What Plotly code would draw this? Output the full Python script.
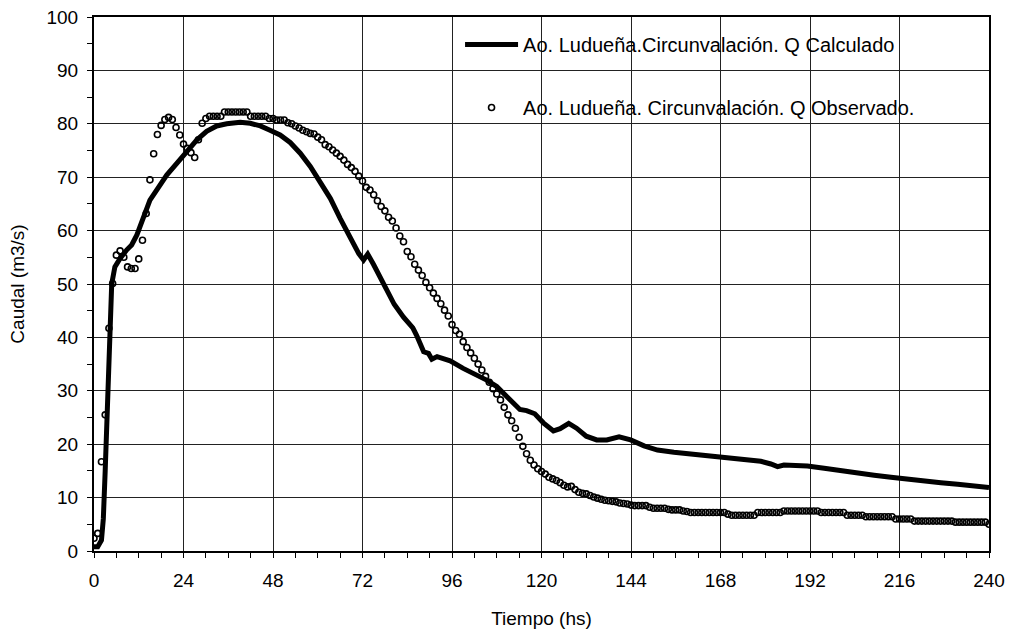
import plotly.graph_objects as go

# Calculated discharge (hours, m3/s)
calc_t = [0, 1, 2, 2.5, 3, 3.5, 3.85, 4.3, 4.5, 4.75, 5.6, 7, 8.8, 10.1, 11.5, 13.2, 15, 16.8,
          19.5, 22.2, 24.9, 27.6, 30.2, 32.9, 35.6, 39.2, 41.9, 44.6, 47.2, 49.9, 52.6, 55.3,
          58, 60.7, 63.4, 66, 68.7, 71, 72.3, 73.4, 75, 77.5, 80.5, 83, 85.5, 86.5, 88.4, 89.7,
          90.6, 92, 95.5, 99, 102.6, 105.3, 108, 110.6, 112, 114.2, 116, 118.2, 120.5, 123.2,
          125, 127.3, 129.4, 132, 134.8, 137.5, 140.8, 143.9, 147.5, 151.1, 155.5, 160, 164.5,
          169, 173.4, 178.8, 181.5, 183.3, 185, 191.3, 195.8, 200.3, 204.8, 209.2, 213.7, 218.2,
          222.6, 227.1, 231.6, 236, 240]
calc_q = [0.8, 0.8, 2.0, 6.0, 15.0, 25.0, 30.8, 40.0, 43.0, 50.0, 53.2, 54.8, 56.4, 57.3, 59.2,
          62.6, 65.7, 67.6, 70.4, 72.6, 74.8, 77.0, 78.6, 79.6, 80.0, 80.3, 80.1, 79.6, 78.8,
          77.9, 76.5, 74.5, 72.0, 69.2, 66.0, 62.3, 58.5, 55.7, 54.5, 55.6, 53.6, 50.3, 46.2,
          43.8, 41.8, 40.4, 37.3, 37.0, 35.9, 36.4, 35.6, 34.2, 33.0, 32.0, 30.8, 29.0, 28.0,
          26.5, 26.3, 25.7, 24.0, 22.5, 22.9, 23.9, 23.0, 21.5, 20.8, 20.8, 21.4, 20.8, 19.7,
          18.9, 18.5, 18.2, 17.9, 17.6, 17.2, 16.8, 16.3, 15.8, 16.1, 15.9, 15.5, 15.0, 14.5,
          14.2, 13.8, 13.4, 13.1, 12.8, 12.5, 12.2, 11.9]

# Observed discharge, hourly from t = 0 h
obs_q = [2.4, 3.3, 16.7, 25.5, 41.7, 50.1, 55.4, 56.2, 55.0, 53.2,
         52.9, 52.9, 54.7, 58.2, 63.2, 69.5, 74.4, 78.0, 79.7, 80.8,
         81.2, 80.8, 79.3, 77.9, 76.2, 75.4, 74.6, 73.7, 77.0, 80.1,
         81.0, 81.4, 81.4, 81.4, 81.4, 82.2, 82.2, 82.2, 82.2, 82.2,
         82.2, 82.2, 81.4, 81.4, 81.4, 81.4, 81.4, 81.0, 81.0, 80.7,
         80.7, 80.7, 80.2, 80.0, 79.6, 79.2, 78.8, 78.5, 78.2, 78.1,
         77.5, 77.0, 76.1, 75.7, 75.1, 74.5, 73.9, 73.2, 72.4, 71.8,
         71.1, 70.2, 69.3, 68.1, 67.6, 66.7, 65.6, 64.5, 63.7, 62.5,
         61.8, 60.5, 59.0, 57.9, 56.1, 55.1, 53.7, 52.6, 51.6, 50.3,
         49.3, 48.3, 47.3, 46.3, 45.1, 44.0, 42.4, 41.3, 40.6, 39.2,
         38.1, 37.1, 36.1, 35.0, 33.9, 32.7, 31.6, 30.4, 29.4, 28.3,
         26.9, 25.5, 24.4, 23.0, 21.3, 19.6, 18.2, 17.0, 16.1, 15.4,
         14.9, 14.4, 13.8, 13.5, 13.2, 12.8, 12.3, 12.0, 12.1, 11.5,
         11.0, 10.8, 10.7, 10.4, 10.1, 9.9, 9.7, 9.5, 9.4, 9.3,
         9.2, 9.0, 8.9, 8.8, 8.6, 8.5, 8.5, 8.5, 8.5, 8.2,
         8.0, 8.0, 8.0, 8.0, 7.8, 7.7, 7.7, 7.7, 7.5, 7.4,
         7.2, 7.2, 7.2, 7.2, 7.2, 7.2, 7.2, 7.2, 7.2, 7.2,
         6.9, 6.7, 6.7, 6.7, 6.7, 6.7, 6.7, 6.7, 7.2, 7.2,
         7.2, 7.2, 7.2, 7.2, 7.2, 7.5, 7.5, 7.5, 7.5, 7.5,
         7.5, 7.5, 7.5, 7.5, 7.5, 7.2, 7.2, 7.2, 7.2, 7.2,
         7.2, 7.2, 6.7, 6.7, 6.7, 6.7, 6.7, 6.4, 6.4, 6.4,
         6.4, 6.4, 6.4, 6.4, 6.4, 6.0, 6.0, 6.0, 6.0, 6.0,
         5.6, 5.6, 5.6, 5.6, 5.6, 5.6, 5.6, 5.6, 5.6, 5.6,
         5.6, 5.4, 5.4, 5.4, 5.4, 5.4, 5.4, 5.4, 5.4, 5.4,
         5.0]
obs_t = list(range(len(obs_q)))

x_ticks = [0, 24, 48, 72, 96, 120, 144, 168, 192, 216, 240]
y_ticks = [0, 10, 20, 30, 40, 50, 60, 70, 80, 90, 100]

name_calc = "Ao. Ludueña.Circunvalación. Q Calculado"
name_obs = "Ao. Ludueña. Circunvalación. Q Observado."

FONT = "Liberation Sans, Arial, sans-serif"

fig = go.Figure()
fig.add_trace(go.Scatter(
    x=calc_t, y=calc_q, mode="lines", name=name_calc,
    line=dict(color="black", width=5), legendgroup="a",
))
fig.add_trace(go.Scatter(
    x=obs_t, y=obs_q, mode="markers", name=name_obs,
    marker=dict(symbol="circle-open", size=6, color="black", line=dict(width=1.6, color="black")),
    legendgroup="b",
))

# white area behind the legend that hides the gridlines
fig.add_shape(type="rect", xref="paper", yref="paper",
              x0=0.3486, x1=0.9877, y0=0.7697, y1=1.0,
              fillcolor="white", line=dict(width=0), layer="between")

axis_common = dict(
    showline=True, linecolor="black", linewidth=2, mirror=True,
    showgrid=True, gridcolor="#222222", gridwidth=1,
    ticks="outside", ticklen=5, tickcolor="black", tickwidth=1,
    zeroline=False, automargin=False,
    tickfont=dict(family=FONT, size=19, color="black"),
    title_font=dict(family=FONT, size=19, color="black"),
)

fig.update_layout(
    width=1014, height=637,
    paper_bgcolor="white", plot_bgcolor="white",
    margin=dict(l=94, r=25, t=17, b=86),
    font=dict(family=FONT, size=19, color="black"),
    xaxis=dict(range=[0, 240], tickvals=x_ticks, title=dict(text="Tiempo (hs)", standoff=22),
               minor=dict(dtick=6, tick0=0, ticks="outside", ticklen=5, tickcolor="black", showgrid=False),
               ticklabelstandoff=6, **axis_common),
    yaxis=dict(range=[0, 100], tickvals=y_ticks, title=dict(text="Caudal (m3/s)", standoff=17),
               minor=dict(dtick=5, tick0=0, ticks="outside", ticklen=5, tickcolor="black", showgrid=False),
               ticklabelstandoff=5, **axis_common),
    showlegend=True,
    legend=dict(
        x=0.409, y=0.985, xanchor="left", yanchor="top",
        bgcolor="rgba(0,0,0,0)", borderwidth=0,
        font=dict(family=FONT, size=20, color="black"),
        traceorder="grouped", tracegroupgap=34, itemwidth=53,
    ),
)

fig.write_html("out.html", config={"displayModeBar": False},
               post_script="document.body.style.margin='0px';document.body.style.padding='0px';")
